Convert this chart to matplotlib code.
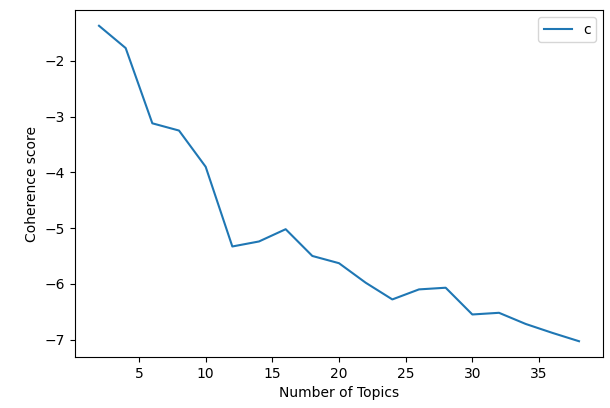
import matplotlib
matplotlib.use("Agg")
import matplotlib.pyplot as plt

topics = [2,4,6,8,10,12,14,16,18,20,22,24,26,28,30,32,34,36,38]
scores = [-1.37,-1.77,-3.12,-3.25,-3.9,-5.33,-5.24,-5.02,-5.5,-5.63,-5.98,-6.28,-6.1,-6.07,-6.55,-6.52,-6.72,-6.88,-7.03]

fig = plt.figure(figsize=(6.1,4.08), dpi=100)
ax = fig.add_axes([75/610, 51/408, 528/610, 347/408])
ax.plot(topics, scores, color="#1f77b4", label="c")
ax.set_xlabel("Number of Topics")
ax.set_ylabel("Coherence score")
ax.legend(loc="upper right")
fig.savefig("out.png")
